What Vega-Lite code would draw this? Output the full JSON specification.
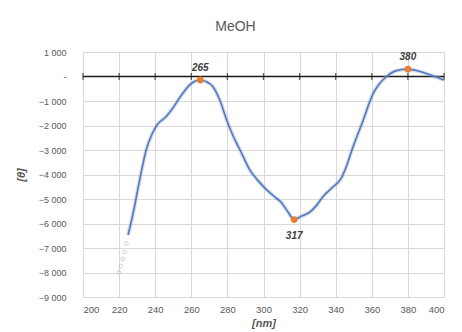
{
  "$schema": "https://vega.github.io/schema/vega-lite/v6.json",
  "width": 361,
  "height": 245,
  "autosize": {"type": "none"},
  "padding": {"left": 83, "top": 52, "right": 18, "bottom": 35},
  "background": "white",
  "title": {"text": "MeOH", "fontSize": 14, "font": "Liberation Sans", "fontWeight": "normal", "color": "#595959", "offset": 14, "dx": -28},
  "config": {"view": {"stroke": null}},
  "datasets": {
    "curve": [
      {"nm": 225, "theta": -6470}, {"nm": 228, "theta": -5500}, {"nm": 230.5, "theta": -4550},
      {"nm": 232.5, "theta": -3820}, {"nm": 235, "theta": -3000}, {"nm": 238, "theta": -2390},
      {"nm": 241, "theta": -1980}, {"nm": 246, "theta": -1640}, {"nm": 249, "theta": -1370},
      {"nm": 254, "theta": -820}, {"nm": 259, "theta": -350}, {"nm": 262, "theta": -190},
      {"nm": 265, "theta": -140}, {"nm": 268, "theta": -200}, {"nm": 272, "theta": -415},
      {"nm": 276, "theta": -1000}, {"nm": 279.6, "theta": -1775}, {"nm": 283, "theta": -2400},
      {"nm": 287, "theta": -3000}, {"nm": 292.5, "theta": -3820}, {"nm": 297, "theta": -4250},
      {"nm": 301.8, "theta": -4630}, {"nm": 306, "theta": -4900}, {"nm": 310, "theta": -5150},
      {"nm": 313.5, "theta": -5520}, {"nm": 317, "theta": -5840}, {"nm": 321, "theta": -5700},
      {"nm": 326, "theta": -5520}, {"nm": 329.6, "theta": -5240}, {"nm": 333, "theta": -4900},
      {"nm": 338.6, "theta": -4500}, {"nm": 343, "theta": -4160}, {"nm": 346, "theta": -3650},
      {"nm": 349, "theta": -3000}, {"nm": 352, "theta": -2400}, {"nm": 355.3, "theta": -1775},
      {"nm": 358, "theta": -1200}, {"nm": 360.8, "theta": -690}, {"nm": 364, "theta": -320},
      {"nm": 368.2, "theta": 0}, {"nm": 373.7, "theta": 240}, {"nm": 379.7, "theta": 300},
      {"nm": 386.7, "theta": 200}, {"nm": 394, "theta": 20}, {"nm": 400, "theta": -140}
    ],
    "faint": [
      {"nm": 220, "theta": -8000}, {"nm": 221, "theta": -7740}, {"nm": 222, "theta": -7450},
      {"nm": 223, "theta": -7150}, {"nm": 224, "theta": -6820}
    ],
    "peaks": [
      {"nm": 265, "theta": -140, "label": "265", "pos": "above"},
      {"nm": 317, "theta": -5840, "label": "317", "pos": "below"},
      {"nm": 380, "theta": 300, "label": "380", "pos": "above"}
    ],
    "ticks": [
      {"nm": 200, "theta": 0}, {"nm": 220, "theta": 0}, {"nm": 240, "theta": 0}, {"nm": 260, "theta": 0},
      {"nm": 280, "theta": 0}, {"nm": 300, "theta": 0}, {"nm": 320, "theta": 0}, {"nm": 340, "theta": 0},
      {"nm": 360, "theta": 0}, {"nm": 380, "theta": 0}, {"nm": 400, "theta": 0}
    ]
  },
  "encoding": {
    "x": {
      "field": "nm", "type": "quantitative",
      "scale": {"domain": [200, 400], "nice": false, "zero": false},
      "axis": {
        "title": "[nm]", "values": [200, 220, 240, 260, 280, 300, 320, 340, 360, 380, 400],
        "domain": false, "ticks": false, "grid": true, "gridColor": "#d9d9d9", "gridWidth": 1,
        "labelFont": "Liberation Sans", "labelFontSize": 9.5, "labelColor": "#595959", "labelPadding": 7,
        "titleFont": "Liberation Sans", "titleFontSize": 11, "titleFontStyle": "italic", "titleFontWeight": "bold",
        "titleColor": "#595959", "titlePadding": 4
      }
    },
    "y": {
      "field": "theta", "type": "quantitative",
      "scale": {"domain": [-9000, 1000], "nice": false, "zero": false},
      "axis": {
        "title": "[θ]", "values": [1000, 0, -1000, -2000, -3000, -4000, -5000, -6000, -7000, -8000, -9000],
        "labelExpr": "datum.value == 0 ? '-' : replace(format(datum.value, ','), ',', ' ')",
        "domain": false, "ticks": false, "grid": true, "gridColor": "#d9d9d9", "gridWidth": 1,
        "labelFont": "Liberation Sans", "labelFontSize": 9, "labelColor": "#595959", "labelPadding": 17,
        "titleFont": "Liberation Sans", "titleFontSize": 11, "titleFontStyle": "italic", "titleFontWeight": "bold",
        "titleColor": "#595959", "titlePadding": 12
      }
    }
  },
  "layer": [
    {
      "data": {"name": "ticks"},
      "mark": {"type": "rule", "color": "#1a1a1a", "strokeWidth": 1.5},
      "encoding": {"x": {"aggregate": "min", "field": "nm"}, "x2": {"aggregate": "max", "field": "nm"}, "y": {"aggregate": "min", "field": "theta"}}
    },
    {
      "data": {"name": "ticks"},
      "mark": {"type": "tick", "orient": "vertical", "color": "#1a1a1a", "size": 7, "thickness": 1.3}
    },
    {
      "data": {"name": "faint"},
      "mark": {"type": "point", "shape": "circle", "filled": false, "color": "#b5b5b5", "size": 14, "strokeWidth": 0.9}
    },
    {
      "data": {"name": "curve"},
      "mark": {"type": "line", "interpolate": "monotone", "color": "#9a9a9a", "strokeWidth": 4, "opacity": 0.35}
    },
    {
      "data": {"name": "curve"},
      "mark": {"type": "line", "interpolate": "monotone", "color": "#4a7bd0", "strokeWidth": 1.6}
    },
    {
      "data": {"name": "peaks"},
      "mark": {"type": "circle", "color": "#ED7D31", "size": 45, "opacity": 1}
    },
    {
      "data": {"name": "peaks"},
      "transform": [{"filter": "datum.pos == 'above'"}],
      "mark": {"type": "text", "dy": -12, "font": "Liberation Sans", "fontSize": 10, "fontStyle": "italic", "fontWeight": "bold", "color": "#404040"},
      "encoding": {"text": {"field": "label"}}
    },
    {
      "data": {"name": "peaks"},
      "transform": [{"filter": "datum.pos == 'below'"}],
      "mark": {"type": "text", "dy": 16, "font": "Liberation Sans", "fontSize": 10, "fontStyle": "italic", "fontWeight": "bold", "color": "#404040"},
      "encoding": {"text": {"field": "label"}}
    }
  ]
}
